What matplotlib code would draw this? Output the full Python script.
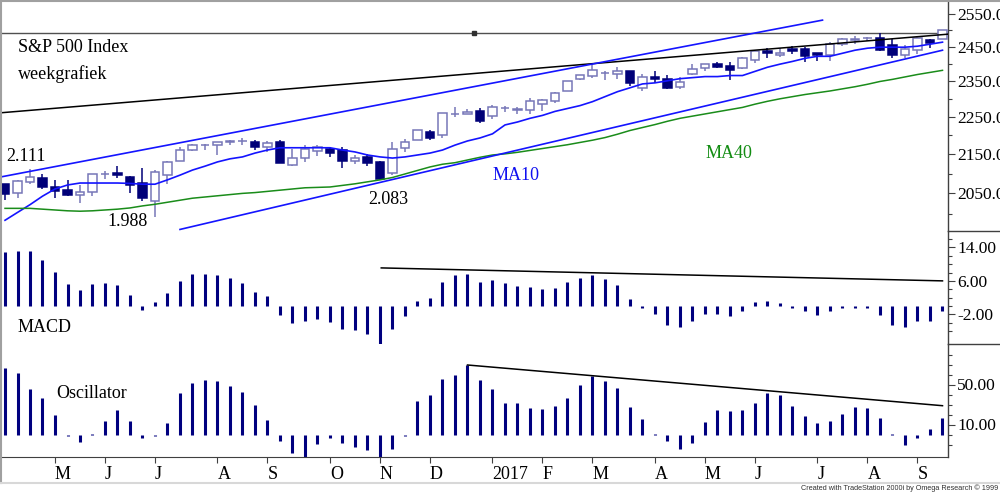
import numpy as np
import matplotlib
matplotlib.use('Agg')
import matplotlib.pyplot as plt
from matplotlib.lines import Line2D
from matplotlib.ticker import FixedLocator, FormatStrFormatter, NullFormatter

plt.rcParams['font.family'] = ['Liberation Serif', 'DejaVu Serif']

# weekly S&P 500 bars, week ending 8 Apr 2016 .. 15 Sep 2017
opens = [2073.2, 2050.2, 2078.8, 2089.4, 2067.2, 2057.6, 2046.5, 2052.2, 2098.6, 2100.8,
         2091.8, 2075.6, 2030.0, 2095.1, 2131.7, 2162.0, 2173.0, 2173.1, 2183.5, 2183.7,
         2181.6, 2170.2, 2181.6, 2120.9, 2140.0, 2158.5, 2164.3, 2160.4, 2132.9, 2143.2,
         2129.8, 2100.6, 2165.6, 2186.4, 2210.2, 2200.7, 2257.8, 2259.2, 2266.2, 2251.6,
         2273.6, 2269.1, 2267.8, 2286.0, 2294.3, 2321.7, 2354.9, 2365.2, 2371.9, 2371.6,
         2378.2, 2329.1, 2362.3, 2357.2, 2332.6, 2370.3, 2388.5, 2399.9, 2393.0, 2387.2,
         2411.7, 2437.8, 2425.9, 2442.6, 2443.3, 2431.4, 2424.5, 2458.3, 2471.5, 2475.9,
         2477.1, 2455.0, 2425.5, 2442.0, 2470.4, 2474.5]
highs = [2073.2, 2083.2, 2111.1, 2099.9, 2084.9, 2084.9, 2071.9, 2099.3, 2105.3, 2120.6,
         2093.7, 2113.3, 2108.7, 2131.7, 2169.1, 2175.6, 2177.1, 2182.9, 2188.5, 2193.8,
         2187.9, 2184.9, 2186.6, 2163.3, 2175.3, 2175.3, 2169.6, 2169.6, 2148.4, 2151.4,
         2133.3, 2182.3, 2189.9, 2213.4, 2214.1, 2259.5, 2277.5, 2272.6, 2273.8, 2282.1,
         2279.3, 2276.1, 2301.0, 2299.3, 2319.2, 2351.2, 2367.3, 2401.0, 2378.8, 2390.0,
         2379.7, 2370.4, 2378.4, 2366.4, 2361.4, 2398.2, 2399.3, 2403.9, 2405.8, 2418.7,
         2440.2, 2446.2, 2446.2, 2453.8, 2450.4, 2432.7, 2463.5, 2477.6, 2484.0, 2480.4,
         2490.9, 2474.9, 2456.0, 2480.4, 2472.6, 2500.2]
lows = [2033.8, 2039.7, 2073.5, 2060.4, 2039.5, 2043.1, 2025.9, 2043.8, 2085.1, 2089.0,
        2050.4, 2032.1, 1991.7, 2074.0, 2131.7, 2159.0, 2159.8, 2147.6, 2175.4, 2175.0,
        2160.4, 2157.1, 2127.8, 2119.1, 2130.8, 2145.0, 2142.6, 2114.7, 2124.4, 2119.4,
        2083.8, 2097.4, 2156.5, 2186.4, 2187.4, 2192.0, 2248.4, 2258.0, 2233.6, 2245.1,
        2263.0, 2258.8, 2257.0, 2267.2, 2288.4, 2321.4, 2352.9, 2358.9, 2354.5, 2357.0,
        2335.7, 2322.3, 2344.5, 2328.9, 2328.3, 2368.5, 2379.8, 2387.7, 2353.8, 2384.7,
        2403.6, 2415.7, 2419.4, 2428.5, 2405.7, 2407.7, 2407.7, 2453.3, 2459.9, 2466.5,
        2437.8, 2417.4, 2417.3, 2428.2, 2446.6, 2474.5]
closes = [2047.6, 2080.7, 2091.6, 2065.3, 2057.1, 2046.6, 2052.3, 2099.1, 2099.1, 2096.1,
          2071.2, 2037.4, 2103.0, 2129.9, 2161.7, 2175.0, 2173.6, 2182.9, 2184.0, 2183.9,
          2169.0, 2180.0, 2127.8, 2139.2, 2164.7, 2168.3, 2153.7, 2133.0, 2141.2, 2126.4,
          2085.2, 2164.5, 2181.9, 2213.4, 2192.0, 2259.5, 2258.1, 2263.8, 2238.8, 2277.0,
          2274.6, 2271.3, 2294.7, 2297.4, 2316.1, 2351.2, 2367.3, 2383.1, 2372.6, 2378.3,
          2344.0, 2362.7, 2355.5, 2329.0, 2348.7, 2384.2, 2399.3, 2390.9, 2381.7, 2415.8,
          2439.1, 2431.8, 2433.2, 2438.3, 2423.4, 2425.2, 2459.3, 2472.5, 2472.1, 2476.8,
          2441.3, 2425.6, 2443.1, 2476.6, 2461.4, 2500.2]

ma10 = [1984, 2003, 2022, 2043, 2061, 2071, 2076, 2076, 2076, 2076,
        2075, 2073, 2073, 2084, 2096, 2109, 2119, 2130, 2138, 2143,
        2153, 2161, 2167, 2167, 2167, 2167, 2167, 2161, 2156, 2148,
        2143, 2140, 2143, 2148, 2153, 2161, 2174, 2185, 2193, 2204,
        2228, 2236, 2246, 2254, 2265, 2273, 2281, 2292, 2306, 2320,
        2331, 2342, 2345, 2351, 2357, 2360, 2363, 2363, 2366, 2366,
        2378, 2390, 2399, 2407, 2416, 2422, 2422, 2431, 2440, 2446,
        2449, 2449, 2449, 2452, 2458, 2464]
ma40 = [2013, 2013, 2013, 2011, 2009, 2007, 2006, 2007, 2009, 2011,
        2014, 2019, 2023, 2028, 2033, 2038, 2041, 2044, 2047, 2050,
        2052, 2055, 2058, 2061, 2064, 2065, 2066, 2070, 2074, 2079,
        2084, 2090, 2099, 2108, 2117, 2124, 2128, 2135, 2142, 2148,
        2151, 2155, 2160, 2165, 2170, 2175, 2181, 2187, 2194, 2203,
        2213, 2221, 2229, 2238, 2246, 2252, 2258, 2264, 2270, 2276,
        2285, 2293, 2300, 2306, 2312, 2317, 2322, 2328, 2334, 2341,
        2349, 2355, 2362, 2369, 2375, 2381]

macd = [12.8, 13.1, 13.1, 10.9, 8.1, 5.3, 3.9, 5.3, 5.5, 4.9,
        2.7, -1.0, 0.9, 3.1, 5.9, 7.7, 7.7, 7.5, 6.7, 5.4,
        3.3, 2.3, -2.1, -4.0, -3.6, -3.2, -3.9, -5.4, -5.8, -6.6,
        -9.0, -5.6, -2.4, 1.3, 2.0, 5.7, 7.4, 7.7, 5.7, 6.3,
        5.5, 4.7, 4.5, 4.1, 4.3, 5.8, 6.7, 7.4, 6.5, 5.1,
        1.7, -0.4, -1.9, -4.5, -5.1, -3.5, -1.9, -1.9, -2.4, -1.1,
        0.9, 1.1, 0.7, -0.4, -1.3, -2.1, -1.1, -0.4, -0.4, -0.4,
        -2.1, -4.6, -5.1, -3.5, -3.5, -1.3]
osc = [67, 62, 46, 37, 20, -1, -7, 1, 13.5, 25,
       14, -3, -1.5, 12, 42, 52, 55, 53.5, 48.5, 43,
       29.5, 14.5, -6.5, -18, -23, -9.5, -3, -8, -12, -15.5,
       -23, -14.5, -1.5, 33.5, 39.5, 55.5, 60, 69.5, 54.5, 46,
       32, 32, 27, 26, 28.5, 37, 49.5, 58.5, 53.5, 47,
       28, 15.5, 1, -6, -14, -8, 13, 25, 24, 25,
       32, 42, 39.5, 29, 18.5, 12, 13.5, 21, 28, 27,
       17, 1, -10.5, -3, 6, 17]

month_bars = [4, 8, 12, 17, 21, 26, 30, 34, 39, 43, 47, 52, 56, 60, 65, 69, 73]
month_labels = ['M', 'J', 'J', 'A', 'S', 'O', 'N', 'D', '2017',
                'F', 'M', 'A', 'M', 'J', 'J', 'A', 'S']

# trendlines (bar index, value)
black_line = ([-0.4, 75.4], [2261, 2488])
upper_channel = ([-0.4, 65.4], [2091, 2531])
lower_channel = ([14.0, 75.0], [1962, 2440])
record_high = 2490.9
macd_line = ([30.1, 75.0], [9.1, 6.0])
osc_line = ([37.0, 75.0], [69.5, 28.8])

UP = '#7676b8'
DOWN = '#000078'
HIST = '#00007f'
BLUE = '#1414ff'
GREEN = '#1a8c1a'

W, H = 1000, 492
fig = plt.figure(figsize=(10, 4.92), dpi=100)


def box(x0, y0, x1, y1):
    return [x0 / W, 1 - y1 / H, (x1 - x0) / W, (y1 - y0) / H]


ax1 = fig.add_axes(box(0, 1.5, 948, 230.7))
ax2 = fig.add_axes(box(0, 230.7, 948, 344))
ax3 = fig.add_axes(box(0, 344, 948, 457))

idx = np.arange(len(closes))
o = np.array(opens)
c = np.array(closes)
hi = np.array(highs)
lo = np.array(lows)
up = c >= o

ax1.vlines(idx[up], lo[up], hi[up], color=UP, lw=1.1, zorder=2)
ax1.vlines(idx[~up], lo[~up], hi[~up], color=DOWN, lw=1.1, zorder=2)
ax1.bar(idx[up], (c - o)[up], bottom=o[up], width=0.66, facecolor='white',
        edgecolor=UP, lw=1.1, zorder=3)
ax1.bar(idx[~up], (o - c)[~up], bottom=c[~up], width=0.66, facecolor=DOWN,
        edgecolor=DOWN, lw=1.1, zorder=3)

ax1.plot(idx, ma10, color=BLUE, lw=1.2, zorder=4)
ax1.plot(idx, ma40, color=GREEN, lw=1.1, zorder=4)
ax1.plot(*black_line, color='black', lw=1.1, zorder=4)
ax1.plot(*upper_channel, color=BLUE, lw=1.2, zorder=4)
ax1.plot(*lower_channel, color=BLUE, lw=1.2, zorder=4)
ax1.axhline(record_high, color='#505050', lw=1.0, zorder=1)
ax1.plot([37.5], [record_high], marker='s', ms=2.5, color='#303030', zorder=5)

ax1.set_yscale('log')
ax1.set_ylim(1959, 2589)
ax1.yaxis.set_major_locator(FixedLocator([2050, 2150, 2250, 2350, 2450, 2550]))
ax1.yaxis.set_minor_locator(FixedLocator([2000, 2100, 2200, 2300, 2400, 2500]))
ax1.yaxis.set_major_formatter(FormatStrFormatter('%.2f'))
ax1.yaxis.set_minor_formatter(NullFormatter())

ax2.vlines(idx, 0, macd, color=HIST, lw=2.2)
ax2.plot(*macd_line, color='black', lw=1.1)
ax2.set_ylim(-9.1, 18.0)
ax2.yaxis.set_major_locator(FixedLocator([14, 6, -2]))
ax2.yaxis.set_minor_locator(FixedLocator(np.arange(-6, 17, 2)))
ax2.yaxis.set_major_formatter(FormatStrFormatter('%.2f'))

ax3.vlines(idx, 0, osc, color=HIST, lw=2.2)
ax3.plot(*osc_line, color='black', lw=1.1)
ax3.set_ylim(-22.5, 90.5)
ax3.yaxis.set_major_locator(FixedLocator([50, 10]))
ax3.yaxis.set_minor_locator(FixedLocator(np.arange(-10, 81, 10)))
ax3.yaxis.set_major_formatter(FormatStrFormatter('%.2f'))

for ax in (ax1, ax2, ax3):
    ax.set_xlim(-0.4, 75.44)
    ax.set_facecolor('none')
    for s in ('top', 'left', 'bottom'):
        ax.spines[s].set_visible(False)
    ax.spines['right'].set_color('#404040')
    ax.spines['right'].set_linewidth(1.0)
    ax.yaxis.tick_right()
    ax.tick_params(axis='y', which='major', direction='out', length=5,
                   width=0.8, color='#404040', pad=1.5, labelsize=12.5)
    ax.tick_params(axis='y', which='minor', direction='out', length=3,
                   width=0.8, color='#404040')
    ax.set_xticks([])

ax3.spines['bottom'].set_visible(True)
ax3.spines['bottom'].set_color('#404040')
ax3.set_xticks(month_bars)
ax3.set_xticklabels(month_labels, ha='left')
ax3.tick_params(axis='x', direction='out', length=4.5, width=0.8,
                color='#404040', pad=2, labelsize=13)


def figline(x0, y0, x1, y1, color='#404040', lw=1.0):
    fig.add_artist(Line2D([x0 / W, x1 / W], [1 - y0 / H, 1 - y1 / H],
                          transform=fig.transFigure, color=color, lw=lw))


figline(948, 230.7, 1000, 230.7)
figline(948, 344, 1000, 344)
figline(0.5, 0, 0.5, 483, color='#a0a0a0', lw=1.5)
figline(0, 0.7, 1000, 0.7, color='#a0a0a0', lw=1.5)
figline(0, 483, 1000, 483, color='#d8d8d8', lw=1.5)


def label(x, y, s, color='black', size=13):
    fig.text(x / W, 1 - y / H, s, color=color, fontsize=size, ha='left', va='center')


label(18, 48, 'S&P 500 Index')
label(18, 74, 'weekgrafiek')
label(6, 156, '2.111')
label(107, 221, '1.988')
label(368, 200, '2.083')
label(493, 175, 'MA10', color='#1010f0')
label(706, 153, 'MA40', color='#128c12')
label(18, 328, 'MACD')
label(56, 394, 'Oscillator')

fig.text(998 / W, 1 - 488 / H, 'Created with TradeStation 2000i by Omega Research \u00a9 1999',
         family=['Liberation Sans', 'DejaVu Sans'], fontsize=5.2, color='#303030',
         ha='right', va='center')

fig.savefig('out.png', dpi=100)
